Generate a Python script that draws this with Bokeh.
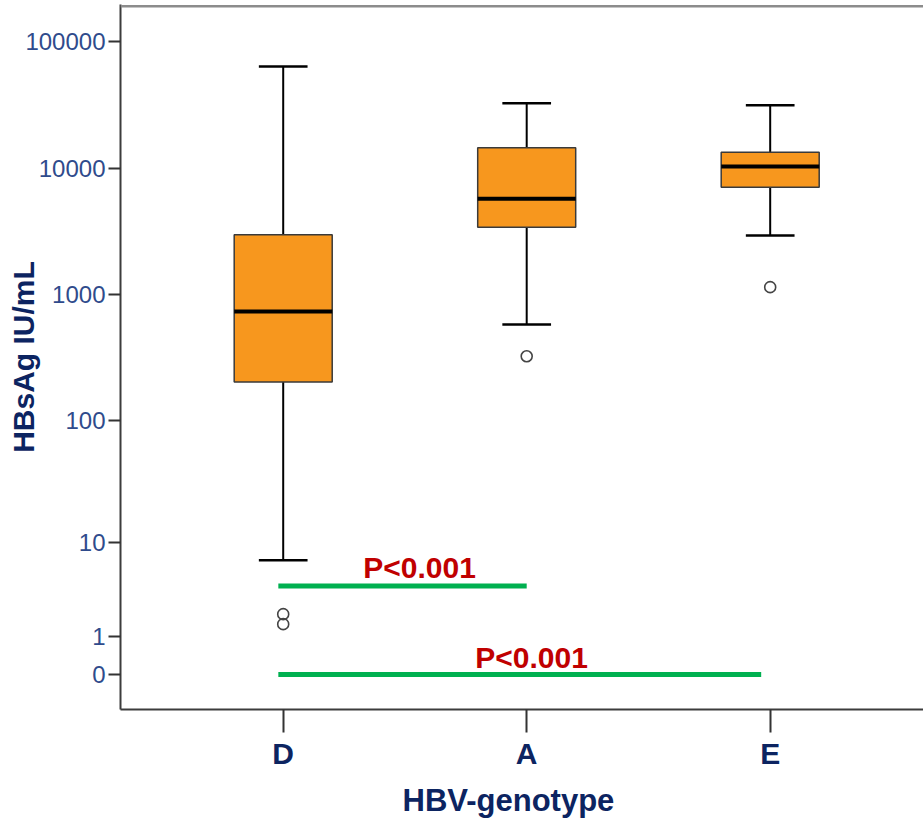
import numpy as np
from bokeh.plotting import figure
from bokeh.models import Range1d, FixedTicker, Span, CustomJSTickFormatter, Title
from bokeh.embed import file_html
from bokeh.resources import INLINE
from bokeh.core.properties import value

# ---------------- data (HBsAg IU/mL) ----------------
genotypes = ["D", "A", "E"]
whisker_low = [7, 584, 2950]
q1 = [204, 3435, 7110]
median = [740, 5760, 10370]
q3 = [2990, 14580, 13460]
whisker_high = [64000, 32800, 31650]

outlier_group = ["D", "D", "A", "E"]
outlier_values = [2.0, 1.5, 327, 1153]

y_tick_values = [0, 1, 10, 100, 1000, 10000, 100000]

comp_from = ["D", "D"]
comp_to = ["A", "E"]
comp_level = [4, 0]
comp_text = ["P<0.001", "P<0.001"]

FONT = "Liberation Sans"
NAVY = "#0c2461"
TICKBLUE = "#2f4b8c"
ORANGE = "#f7971e"
GREEN = "#00b050"
RED = "#c00000"


def tr(v):
    # axis is log10(value + 1)
    return np.log10(np.asarray(v, dtype=float) + 1.0)


pos = {g: i + 1 for i, g in enumerate(genotypes)}
xs = np.array([pos[g] for g in genotypes], dtype=float)

p = figure(width=923, height=826, output_backend="svg", toolbar_location=None,
           x_range=Range1d(0.3318, 3.6296), y_range=Range1d(-0.2767, 5.2964),
           min_border_left=120, min_border_right=0, min_border_top=4,
           min_border_bottom=117)
p.outline_line_color = None
p.xgrid.visible = False
p.ygrid.visible = False
p.background_fill_color = "white"
p.border_fill_color = "white"

# top border line
p.add_layout(Span(location=5.283, dimension="width", line_color="#8c8c8c",
                  line_width=2.5))

# whiskers
p.segment(x0=xs, x1=xs, y0=tr(q3), y1=tr(whisker_high), line_color="black", line_width=2)
p.segment(x0=xs, x1=xs, y0=tr(q1), y1=tr(whisker_low), line_color="black", line_width=2)
cap = 0.1
p.segment(x0=xs - cap, x1=xs + cap, y0=tr(whisker_high), y1=tr(whisker_high),
          line_color="black", line_width=2.5)
p.segment(x0=xs - cap, x1=xs + cap, y0=tr(whisker_low), y1=tr(whisker_low),
          line_color="black", line_width=2.5)

# boxes
bw = 0.4025
p.vbar(x=xs, top=tr(q3), bottom=tr(q1), width=bw, fill_color=ORANGE,
       line_color="#3a3a3a", line_width=1.5)
p.segment(x0=xs - bw / 2, x1=xs + bw / 2, y0=tr(median), y1=tr(median),
          line_color="black", line_width=4)

# outliers
ox = [pos[g] for g in outlier_group]
p.scatter(x=ox, y=tr(outlier_values), marker="circle", size=11,
          fill_alpha=0, line_color="#444444", line_width=1.6)

# comparison lines and p-values
cx0 = [pos[g] - 0.02 for g in comp_from]
cx1 = [pos[b] - (0.0 if b == "A" else 0.037) for b in comp_to]
p.segment(x0=cx0, x1=cx1, y0=tr(comp_level), y1=tr(comp_level),
          line_color=GREEN, line_width=5)
tx = [(pos[a] + pos[b]) / 2 + off for a, b, off in zip(comp_from, comp_to, [0.06, 0.02])]
ty = tr(comp_level) + np.array([0.147, 0.134])
p.text(x=tx, y=ty, text=comp_text, text_font=value(FONT), text_font_style="bold",
       text_font_size="30px", text_color=RED, text_align="center",
       text_baseline="alphabetic")

# y axis
yax = p.yaxis[0]
yax.ticker = FixedTicker(ticks=list(tr(y_tick_values)))
yax.formatter = CustomJSTickFormatter(code="return String(Math.round(Math.pow(10, tick) - 1));")
yax.major_label_text_font = FONT
yax.major_label_text_font_size = "24px"
yax.major_label_text_color = TICKBLUE
yax.major_label_standoff = 3
yax.major_tick_out = 12
yax.major_tick_in = 0
yax.minor_tick_line_color = None
yax.major_tick_line_width = 2
yax.major_tick_line_color = "#333333"
yax.axis_line_width = 2
yax.axis_line_color = "#3c3c3c"
yax.axis_label = "HBsAg IU/mL"
yax.axis_label_text_font = FONT
yax.axis_label_text_font_style = "bold"
yax.axis_label_text_font_size = "30px"
yax.axis_label_text_color = NAVY
yax.axis_label_standoff = -18

# x axis
xax = p.xaxis[0]
xax.ticker = FixedTicker(ticks=[1, 2, 3])
xax.major_label_overrides = {pos[g]: g for g in genotypes}
xax.major_label_text_font = FONT
xax.major_label_text_font_style = "bold"
xax.major_label_text_font_size = "30px"
xax.major_label_text_color = NAVY
xax.major_label_standoff = 4
xax.major_tick_out = 23
xax.major_tick_in = 0
xax.minor_tick_line_color = None
xax.major_tick_line_width = 2
xax.major_tick_line_color = "#333333"
xax.axis_line_width = 2
xax.axis_line_color = "#3c3c3c"

# x axis title (offset to match the original's position)
p.add_layout(Title(text="HBV-genotype", align="left", offset=282, standoff=17,
                   text_font=FONT, text_font_style="bold", text_font_size="31px",
                   text_color=NAVY), "below")

open("out.html", "w").write(file_html(p, INLINE))
